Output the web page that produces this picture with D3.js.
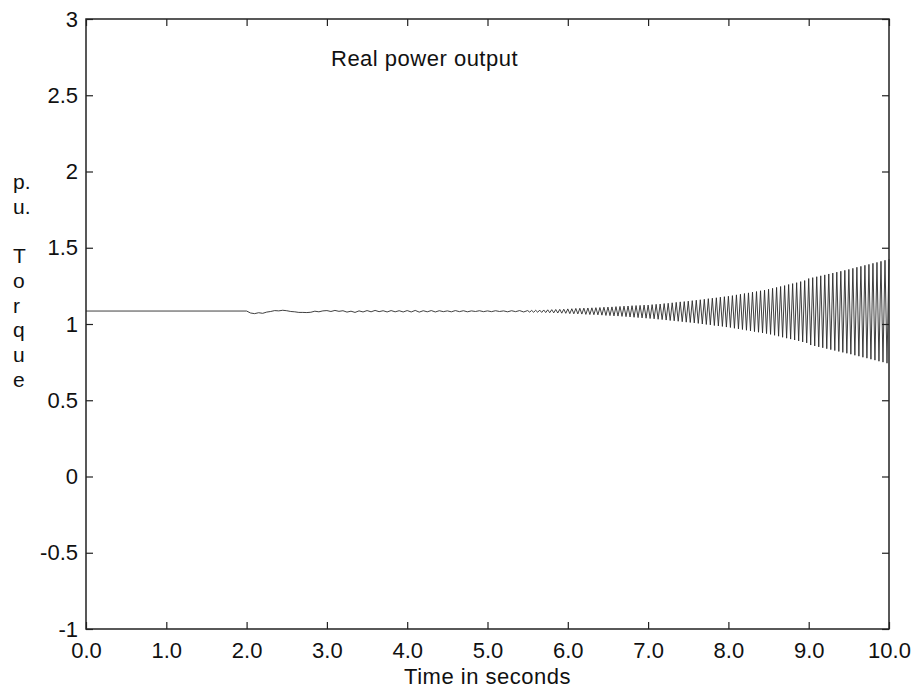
<!DOCTYPE html>
<html>
<head>
<meta charset="utf-8">
<script src="https://cdn.jsdelivr.net/npm/d3@7"></script>
<style>
  body { margin: 0; background: #fff; }
  text { font-family: "Liberation Sans", Arial, sans-serif; fill: #111; }
</style>
</head>
<body>
<div id="chart"></div>
<script>
// axis ticks
var xTicks = [0, 1, 2, 3, 4, 5, 6, 7, 8, 9, 10];
var yTicks = [-1, -0.5, 0, 0.5, 1, 1.5, 2, 2.5, 3];
var yLabelChars = ["p.", "u.", "", "T", "o", "r", "q", "u", "e"];

// steady part before the disturbance (time, value)
var steadyTimes = [0, 1.98];
var steadyValues = [1.085, 1.085];

// slow ripple, read every 0.05 s from t = 2.00 to 5.45
var rippleStart = 2.0, rippleStep = 0.05;
var rippleValues = [
  1.085,1.072,1.068,1.074,1.070,1.078,1.082,1.088,1.086,1.090,1.087,1.082,1.080,1.076,1.076,1.075,1.077,1.084,1.080,1.086,
  1.088,1.082,1.089,1.083,1.087,1.078,1.084,1.076,1.086,1.079,1.088,1.080,1.089,1.081,1.087,1.079,1.088,1.080,1.087,1.079,
  1.088,1.079,1.089,1.078,1.087,1.080,1.088,1.079,1.087,1.081,1.086,1.080,1.088,1.081,1.087,1.080,1.086,1.082,1.087,1.081,
  1.086,1.081,1.087,1.082,1.086,1.080,1.087,1.081,1.088,1.079
];

// growing oscillation, peaks read every 0.025 s from t = 5.50 to 10.00
var oscStart = 5.5, oscStep = 0.025;
var oscValues = [
  1.088,1.078,1.089,1.077,1.090,1.077,1.091,1.076,1.092,1.075,1.093,1.074,1.094,1.073,1.095,1.072,1.096,1.071,1.097,1.070,
  1.099,1.068,1.100,1.067,1.102,1.066,1.103,1.065,1.104,1.063,1.105,1.062,1.106,1.061,1.107,1.060,1.108,1.058,1.110,1.056,
  1.111,1.055,1.112,1.053,1.114,1.052,1.115,1.050,1.117,1.048,1.118,1.046,1.120,1.044,1.121,1.042,1.122,1.040,1.124,1.038,
  1.124,1.036,1.127,1.034,1.129,1.031,1.131,1.029,1.134,1.026,1.136,1.023,1.139,1.021,1.142,1.018,1.145,1.015,1.147,1.012,
  1.150,1.010,1.153,1.007,1.156,1.004,1.159,1.000,1.162,0.997,1.166,0.994,1.169,0.990,1.172,0.987,1.176,0.984,1.179,0.980,
  1.182,0.977,1.186,0.972,1.191,0.968,1.195,0.964,1.200,0.959,1.204,0.955,1.209,0.950,1.213,0.946,1.218,0.941,1.222,0.937,
  1.228,0.932,1.234,0.926,1.240,0.920,1.246,0.913,1.252,0.907,1.259,0.901,1.265,0.895,1.271,0.889,1.278,0.882,1.285,0.876,
  1.298,0.862,1.304,0.856,1.310,0.850,1.316,0.844,1.322,0.838,1.328,0.832,1.334,0.826,1.340,0.820,1.346,0.814,1.352,0.808,
  1.358,0.802,1.365,0.795,1.372,0.789,1.378,0.782,1.385,0.776,1.391,0.769,1.398,0.763,1.404,0.756,1.411,0.750,1.418,0.743,
  1.425
];

var width = 920, height = 692;
var margin = {top: 19, right: 31, bottom: 63, left: 86};
var w = width - margin.left - margin.right,
    h = height - margin.top - margin.bottom;

var svg = d3.select("#chart")
  .append("svg")
    .attr("width", width)
    .attr("height", height);

var g = svg.append("g")
    .attr("transform", "translate(" + margin.left + "," + margin.top + ")");

var x = d3.scaleLinear().domain([0, 10]).range([0, w]);
var y = d3.scaleLinear().domain([-1, 3]).range([h, 0]);

// data points
var data = steadyTimes.map(function(t, i) { return {t: t, v: steadyValues[i]}; });
rippleValues.forEach(function(v, i) { data.push({t: rippleStart + i * rippleStep, v: v}); });
oscValues.forEach(function(v, i) { data.push({t: oscStart + i * oscStep, v: v}); });

var line = d3.line()
  .x(function(d) { return x(d.t); })
  .y(function(d) { return y(d.v); });

g.append("path")
  .datum(data)
  .attr("fill", "none")
  .attr("stroke", "#2a2a2a")
  .attr("stroke-width", 0.9)
  .attr("d", line);

// axes with inward ticks on all sides
var fmtX = d3.format(".1f");
var fmtY = function(d) { return String(d); };
g.append("g")
  .attr("transform", "translate(0," + h + ")")
  .call(d3.axisBottom(x).tickValues(xTicks).tickSize(-7).tickPadding(13).tickFormat(fmtX))
  .call(function(s) {
    s.select(".domain").remove();
    s.selectAll("text").attr("font-size", "22px").attr("fill", "#111");
  });
g.append("g")
  .call(d3.axisTop(x).tickValues(xTicks).tickSize(-7).tickFormat(""))
  .call(function(s) { s.select(".domain").remove(); });
g.append("g")
  .call(d3.axisLeft(y).tickValues(yTicks).tickSize(-7).tickPadding(8).tickFormat(fmtY))
  .call(function(s) {
    s.select(".domain").remove();
    s.selectAll("text").attr("font-size", "22px").attr("fill", "#111");
  });
g.append("g")
  .attr("transform", "translate(" + w + ",0)")
  .call(d3.axisRight(y).tickValues(yTicks).tickSize(-7).tickFormat(""))
  .call(function(s) { s.select(".domain").remove(); });

g.selectAll(".tick line").attr("stroke", "#222").attr("stroke-width", 1.2);

// frame
g.append("rect")
  .attr("width", w)
  .attr("height", h)
  .attr("fill", "none")
  .attr("stroke", "#222")
  .attr("stroke-width", 1.5);

// title inside the plot
g.append("text")
  .attr("x", 245)
  .attr("y", 47)
  .attr("font-size", "22px")
  .attr("letter-spacing", "0.5px")
  .text("Real power output");

// x label
svg.append("text")
  .attr("x", margin.left + w / 2)
  .attr("y", 684)
  .attr("text-anchor", "middle")
  .attr("font-size", "22px")
  .attr("letter-spacing", "0.5px")
  .text("Time in seconds");

// y label, one letter per row
svg.append("g")
  .selectAll("text")
  .data(yLabelChars)
  .enter()
  .append("text")
    .attr("x", 13)
    .attr("y", function(d, i) { return 189 + i * 24.7; })
    .attr("font-size", "21px")
    .text(function(d) { return d; });
</script>
</body>
</html>
